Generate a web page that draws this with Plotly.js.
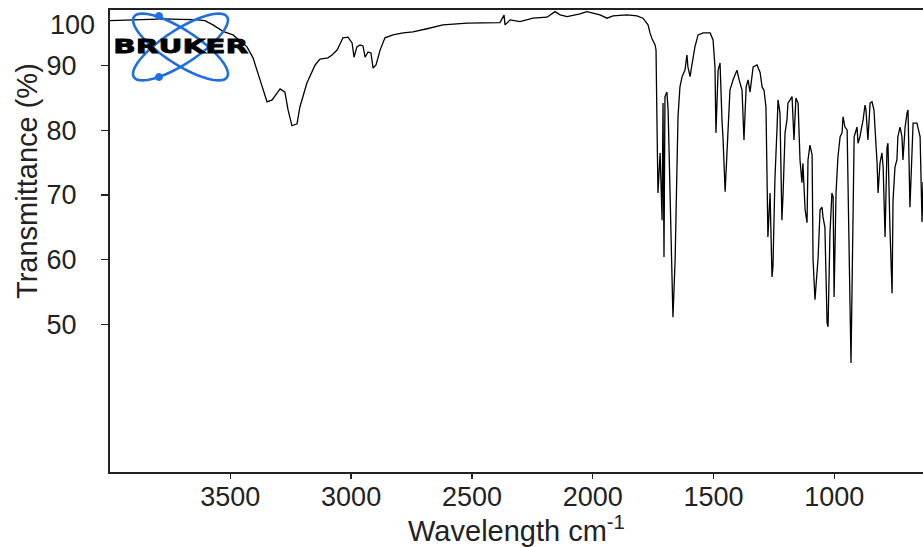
<!DOCTYPE html>
<html>
<head>
<meta charset="utf-8">
<script src="https://cdn.plot.ly/plotly-3.0.1.min.js"></script>
<style>html,body{margin:0;padding:0;background:#fff;}#chart{width:923px;height:547px;}</style>
</head>
<body>
<div id="chart"></div>
<script>
// Wavenumber (cm-1)
const wavenumber = [3998,3915,3832,3770,3708,3646,3605,3572,3530,3489,3431,3406,3377,3348,3327,3294,3274,3261,3245,3224,3212,3183,3149,3129,3096,3079,3058,3034,3013,2996,2988,2976,2963,2951,2942,2930,2918,2909,2897,2880,2860,2827,2785,2744,2686,2620,2520,2437,2384,2367,2363,2342,2301,2247,2189,2156,2135,2106,2053,2024,1999,1970,1941,1916,1858,1817,1792,1771,1763,1755,1742,1738,1734,1730,1721,1713,1709,1705,1701,1693,1688,1680,1672,1668,1659,1651,1647,1639,1630,1618,1610,1606,1597,1593,1585,1577,1564,1543,1514,1502,1494,1490,1481,1473,1465,1461,1452,1444,1440,1432,1419,1403,1394,1382,1374,1365,1357,1349,1336,1320,1307,1299,1291,1283,1279,1275,1266,1258,1254,1246,1237,1233,1225,1217,1212,1204,1196,1192,1183,1175,1167,1159,1150,1142,1134,1130,1121,1113,1109,1101,1092,1088,1080,1072,1067,1059,1051,1047,1039,1030,1026,1018,1010,1005,1001,993,985,976,968,964,956,947,943,935,931,923,918,906,902,894,881,873,869,861,852,844,836,823,819,811,803,798,790,782,778,770,761,757,749,741,737,728,720,716,707,699,695,687,678,674,658,645,637,633];
// Transmittance (%)
const transmittance = [96.96,97.07,97.15,97.22,97.15,97.11,96.96,96.3,95.3,94.75,92.9,91.2,87.8,84.4,84.7,86.4,85.9,83.15,80.7,81.0,83.6,87.3,90.1,91.0,91.2,91.65,92.4,94.3,94.4,93.5,91.3,92.9,93.2,93.05,91.3,92.1,91.96,89.6,90.1,92.4,94.3,94.75,95.06,95.2,95.7,96.3,96.56,96.56,96.65,97.8,96.3,97.07,96.8,97.33,97.49,98.35,97.84,97.58,98.0,98.35,98.1,97.84,97.33,97.69,97.84,97.69,97.33,96.3,95.06,94.2,93.2,92.43,81.1,70.3,76.5,66.1,84.2,60.4,85.2,85.9,83.15,71.2,58.9,51.1,59.9,74.3,82.1,86.7,88.3,89.3,91.65,89.8,88.3,89.3,90.9,92.9,94.75,95.06,95.06,93.97,89.8,79.6,89.3,90.4,81.6,79.0,70.5,76.5,79.0,86.2,87.8,89.3,87.8,86.2,78.5,86.7,87.8,85.9,89.8,90.1,88.9,86.7,86.2,83.6,73.9,63.5,70.3,57.3,58.9,72.3,80.5,84.7,82.7,66.1,70.3,79.6,81.6,84.2,84.7,85.2,78.5,85.0,84.2,75.4,71.9,74.9,67.7,65.7,75.4,77.7,76.2,59.9,53.8,57.9,60.4,67.7,68.1,66.6,65.0,50.2,49.6,64.1,70.3,69.7,54.2,70.3,75.9,79.0,79.6,82.1,80.5,80.05,68.8,52.7,44.0,62.6,79.0,80.5,78.0,79.0,81.6,83.9,83.15,78.5,84.2,84.4,83.15,74.9,70.3,74.9,76.5,74.3,63.5,77.4,78.0,65.05,54.8,69.2,74.3,75.4,79.0,80.5,79.0,75.4,80.5,82.7,83.15,68.1,79.0,81.1,81.1,79.0,65.8,72.0];

const xTickVals = [3500,3000,2500,2000,1500,1000];
const xTickText = ['3500','3000','2500','2000','1500','1000'];
const yTickVals = [50,60,70,80,90];
const yTickText = ['50\u2007','60\u2007','70\u2007','80\u2007','90\u2007'];

// Bruker logo orbit paths (pixel offsets around logo centre)
function ellipsePath(a, b, thetaDeg) {
  const th = thetaDeg * Math.PI / 180;
  let s = '';
  for (let i = 0; i <= 72; i++) {
    const t = i / 72 * 2 * Math.PI;
    const x = a * Math.cos(t) * Math.cos(th) - b * Math.sin(t) * Math.sin(th);
    const y = a * Math.cos(t) * Math.sin(th) + b * Math.sin(t) * Math.cos(th);
    s += (i === 0 ? 'M' : 'L') + x.toFixed(2) + ',' + y.toFixed(2);
  }
  return s + 'Z';
}
const logoX = (180.5 - 110) / 813;
const logoY = 1 - (47 - 10) / 462;
const blue = '#1f6fe0';
const orbitCommon = {type:'path', xref:'paper', yref:'paper', xsizemode:'pixel', ysizemode:'pixel',
  xanchor: logoX, yanchor: logoY, line:{color:blue, width:2.6}, layer:'above'};
function dot(dx, dy) {
  return {type:'circle', xref:'paper', yref:'paper', xsizemode:'pixel', ysizemode:'pixel',
    xanchor: logoX, yanchor: logoY, x0: dx-3.5, x1: dx+3.5, y0: dy-3.5, y1: dy+3.5,
    fillcolor: blue, line:{color:blue, width:1}, layer:'above'};
}

const trace = {
  x: wavenumber, y: transmittance, type:'scatter', mode:'lines',
  line:{color:'#000', width:1.3}, hoverinfo:'skip', showlegend:false
};

const axisFont = {family:'Liberation Sans, Arial, sans-serif', size:27, color:'#222'};
const titleFont = {family:'Liberation Sans, Arial, sans-serif', size:29, color:'#222'};

const layout = {
  width:923, height:547,
  margin:{l:110, r:0, t:10, b:75, pad:0},
  paper_bgcolor:'#fff', plot_bgcolor:'#fff',
  font:{family:'Liberation Sans, Arial, sans-serif', color:'#222'},
  showlegend:false,
  xaxis:{
    range:[3998, 633], tickvals:xTickVals, ticktext:xTickText,
    ticks:'outside', ticklen:5, tickwidth:1.5, tickcolor:'#222',
    showline:true, linewidth:2, linecolor:'#222', mirror:true,
    showgrid:false, zeroline:false, tickfont:axisFont,
    ticklabelstandoff:-5,
    title:{text:'Wavelength cm<sup>-1</sup>', font:titleFont, standoff:4},
    automargin:false
  },
  yaxis:{
    range:[27.15, 98.6], tickvals:yTickVals, ticktext:yTickText,
    ticks:'outside', ticklen:7, tickwidth:1.5, tickcolor:'#222',
    showline:true, linewidth:2, linecolor:'#222', mirror:false,
    showgrid:false, zeroline:false, tickfont:axisFont,
    ticklabelstandoff:4,
    automargin:false
  },
  shapes:[
    Object.assign({path: ellipsePath(55.5, 17, 33)}, orbitCommon),
    Object.assign({path: ellipsePath(55.5, 17, -33)}, orbitCommon),
    dot(-21.5, 31), dot(-21.5, -30)
  ],
  annotations:[
    {text:'100', xref:'paper', yref:'paper', x:(97-110)/813, y:1-(25-10)/462,
     xanchor:'right', yanchor:'middle', showarrow:false, font:axisFont},
    {text:'Transmittance (%)', xref:'paper', yref:'paper', x:(27-110)/813, y:1-(181-10)/462,
     xanchor:'center', yanchor:'middle', textangle:-90, showarrow:false, font:titleFont},
    {text:'<b>BRUKER</b>', xref:'paper', yref:'paper', x:logoX, y:1-(46.5-10)/462,
     xanchor:'center', yanchor:'middle', showarrow:false,
     font:{family:'DejaVu Sans, sans-serif', size:20, color:'#000'}}
  ]
};

Plotly.newPlot('chart', [trace], layout, {staticPlot:true, displayModeBar:false}).then(function(gd){
  const texts = gd.querySelectorAll('.annotation-text');
  texts.forEach(function(t){
    if (t.textContent === 'BRUKER') {
      t.setAttribute('textLength', '135');
      t.setAttribute('lengthAdjust', 'spacingAndGlyphs');
      t.style.stroke = '#000';
      t.style.strokeWidth = '0.8px';
    }
  });
});
</script>
</body>
</html>
